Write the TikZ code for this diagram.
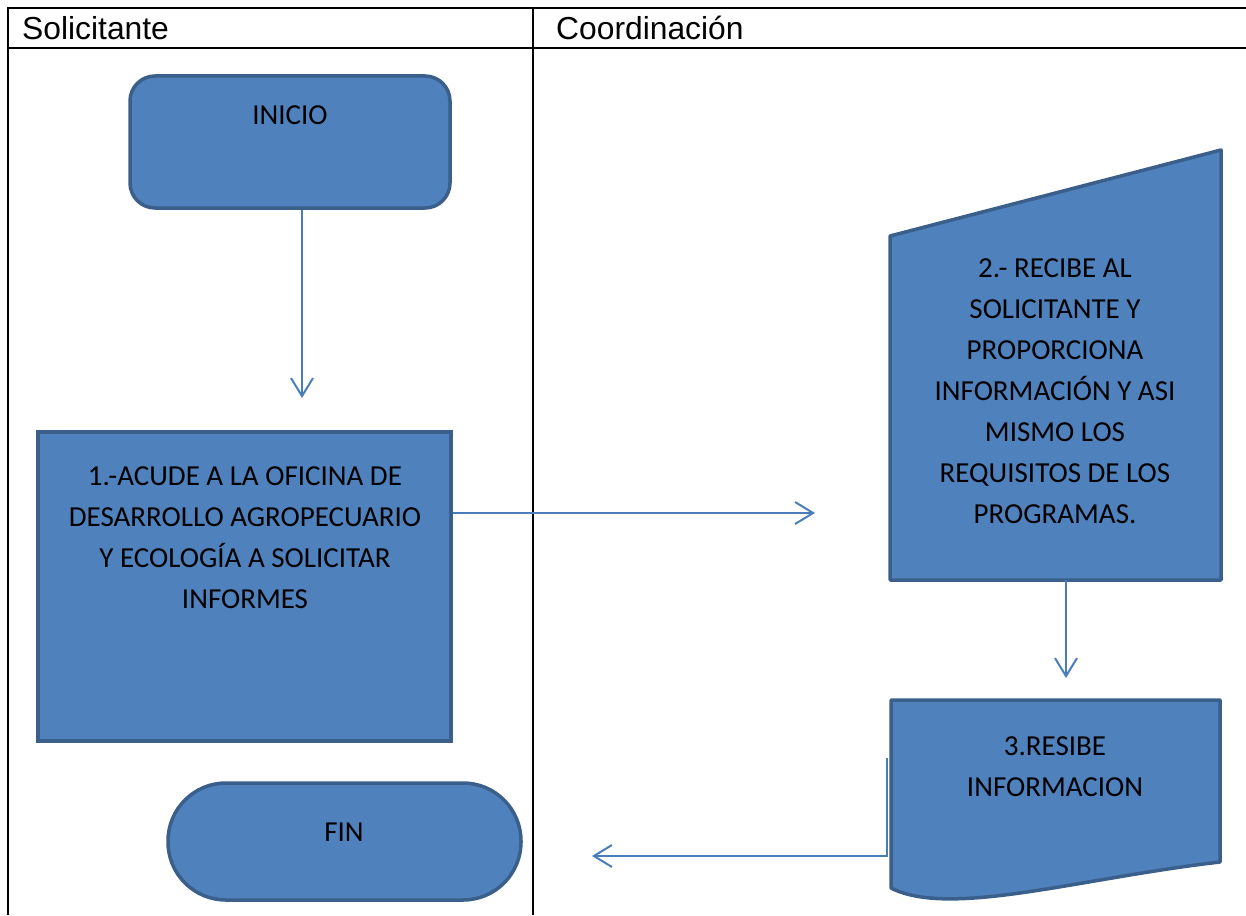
\documentclass[tikz,border=0pt]{standalone}
\usepackage{fontspec}
\setmainfont{Liberation Sans}
\newfontfamily\calfont{Carlito}
\usetikzlibrary{arrows.meta}
\definecolor{boxfill}{HTML}{4F81BD}
\definecolor{boxline}{HTML}{3A5F8B}
\definecolor{arrowc}{HTML}{4A7EBB}
\tikzset{
  shp/.style={fill=boxfill, draw=boxline, line width=3.5pt},
  txt/.style={font=\calfont\fontsize{29}{41}\selectfont, align=center, inner sep=0pt, text=black},
  hdr/.style={font=\fontsize{31.8}{36}\selectfont, anchor=base west, inner sep=0pt},
  conn/.style={draw=arrowc, line width=2pt, -{Straight Barb[length=18pt,width=22pt,line width=2pt]}},
  tbl/.style={line width=2pt, draw=black}
}
\begin{document}
\begin{tikzpicture}[x=1pt,y=-1pt]
\useasboundingbox (0,0) rectangle (1246,915);
% table
\draw[tbl] (1246,8) -- (8,8) -- (8,915);
\draw[tbl] (8,48) -- (1246,48);
\draw[tbl] (533,8) -- (533,915);
\node[hdr] (h1) at (22,40) {Solicitante};
\node[hdr] (h2) at (556,40) {Coordinación};
% INICIO
\node[shp, rounded corners=25pt, minimum width=320pt, minimum height=132pt, inner sep=0pt] (inicio) at (290,142) {};
\node[txt] (tinicio) at (290,115) {INICIO};
% box 1
\node[shp, minimum width=413pt, minimum height=309pt, inner sep=0pt] (b1) at (244.5,586.5) {};
\node[txt] (tb1) at (245,538) {1.-ACUDE A LA OFICINA DE\\DESARROLLO AGROPECUARIO\\Y ECOLOGÍA A SOLICITAR\\INFORMES};
% manual input
\draw[shp, line join=round] (890,236) -- (1221,150) -- (1221,580) -- (890,580) -- cycle;
\coordinate (mi-s) at (1066,580);
\coordinate (mi-w) at (890,513);
\node[txt] (tmi) at (1055,391) {2.- RECIBE AL\\SOLICITANTE Y\\PROPORCIONA\\INFORMACIÓN Y ASI\\MISMO LOS\\REQUISITOS DE LOS\\PROGRAMAS.};
% document
\draw[shp, line join=round] (891,700) -- (1220,700) -- (1220,862)
  .. controls (1080,878) and (950,918) .. (891,888) -- cycle;
\coordinate (doc-n) at (1066,678);
\coordinate (doc-w) at (887,758);
\node[txt] (tdoc) at (1055,766.5) {3.RESIBE\\INFORMACION};
% FIN
\node[shp, rounded corners=58pt, minimum width=353pt, minimum height=117pt, inner sep=0pt] (fin) at (344.5,841.5) {};
\node[txt] (tfin) at (344,832) {FIN};
% connectors
\coordinate (a1end) at (302,398);
\coordinate (a2end) at (815,513);
\coordinate (a4end) at (592,856);
\draw[conn] (inicio.south -| a1end) -- (a1end);
\draw[conn] (b1.east |- a2end) -- (a2end);
\draw[conn] (mi-s) -- (doc-n);
\draw[conn] (doc-w) |- (a4end);
\end{tikzpicture}
\end{document}
